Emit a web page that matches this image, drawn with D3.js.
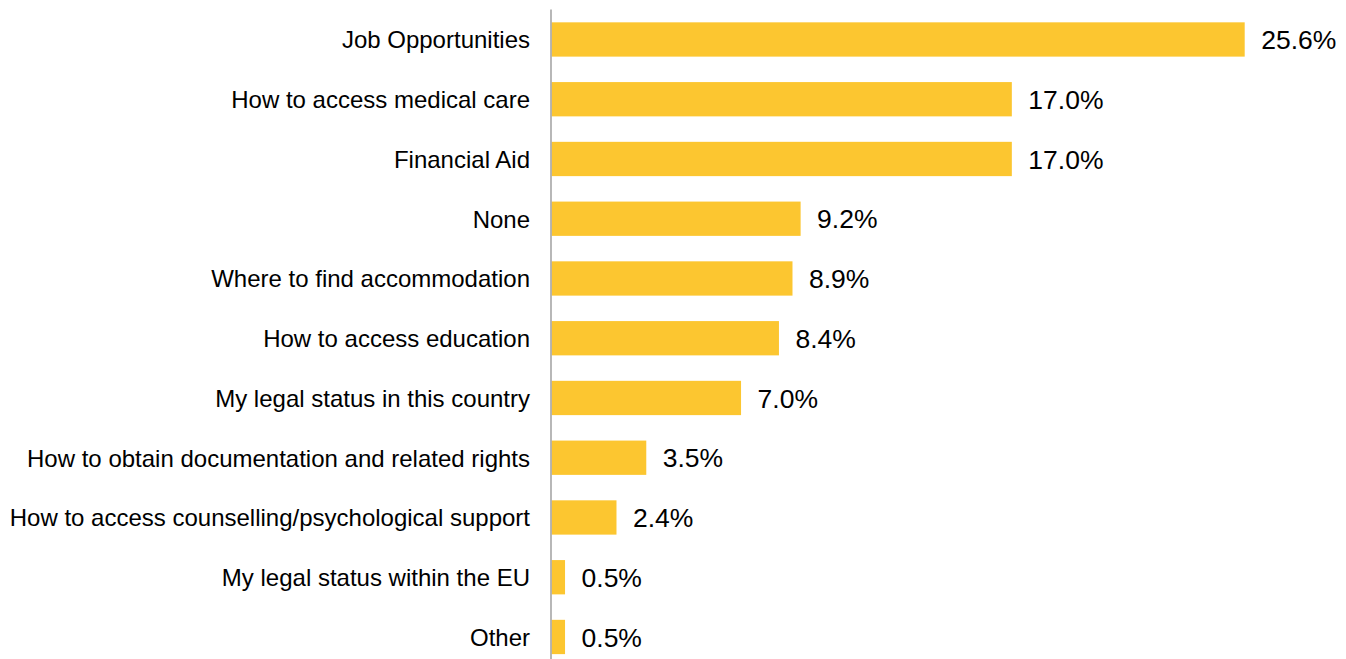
<!DOCTYPE html>
<html>
<head>
<meta charset="utf-8">
<script src="https://cdn.jsdelivr.net/npm/d3@7"></script>
<style>
  html, body { margin: 0; padding: 0; background: #ffffff; }
  svg { display: block; }
  text { font-family: "Liberation Sans", Arial, sans-serif; fill: #000; }
</style>
</head>
<body>
<svg id="chart" width="1346" height="659"></svg>
<script>
// Information needs, share of respondents (%)
const categories = [
  "Job Opportunities",
  "How to access medical care",
  "Financial Aid",
  "None",
  "Where to find accommodation",
  "How to access education",
  "My legal status in this country",
  "How to obtain documentation and related rights",
  "How to access counselling/psychological support",
  "My legal status within the EU",
  "Other"
];
const values = [25.6, 17.0, 17.0, 9.2, 8.9, 8.4, 7.0, 3.5, 2.4, 0.5, 0.5];
const valueLabels = values.map(v => v.toFixed(1) + "%");

const svg = d3.select("#chart");

const axisX = 551;
const x = d3.scaleLinear()
  .domain([0, 25.6])
  .range([axisX + 0.5, 1244.7]);

const y = d3.scaleBand()
  .domain(categories)
  .range([9.6, 9.6 + 59.75 * categories.length])
  .paddingInner(0.426)
  .paddingOuter(0.213);

// Bars
svg.append("g")
  .selectAll("rect")
  .data(values)
  .join("rect")
  .attr("x", x(0))
  .attr("y", (d, i) => y(categories[i]))
  .attr("width", d => x(d) - x(0))
  .attr("height", y.bandwidth())
  .attr("fill", "#fcc630");

// Vertical category axis
const yAxis = d3.axisLeft(y).tickSize(0).tickPadding(21);
const gAxis = svg.append("g")
  .attr("transform", `translate(${axisX},0)`)
  .call(yAxis);
gAxis.select(".domain")
  .attr("stroke", "#a6a6a6")
  .attr("stroke-width", 1.6)
  .attr("d", `M0,${y.range()[0]}V${y.range()[1]}`);
gAxis.selectAll(".tick text")
  .attr("font-size", 24)
  .attr("dy", "0.37em")
  .attr("font-family", "Liberation Sans, Arial, sans-serif")
  .attr("fill", "#000");

// Value labels
svg.append("g")
  .selectAll("text")
  .data(values)
  .join("text")
  .attr("x", d => x(d) + 16.5)
  .attr("y", (d, i) => y(categories[i]) + y.bandwidth() / 2)
  .attr("dy", "0.36em")
  .attr("font-size", 26.5)
  .text((d, i) => valueLabels[i]);
</script>
</body>
</html>
